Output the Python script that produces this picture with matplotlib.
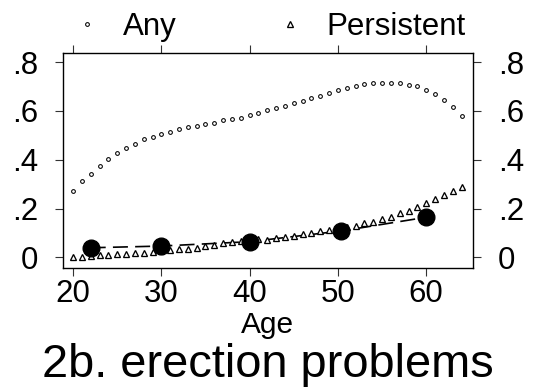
import matplotlib
matplotlib.use("Agg")
import matplotlib.pyplot as plt
from matplotlib.lines import Line2D

plt.rcParams["font.family"] = ["Liberation Sans", "DejaVu Sans"]
plt.rcParams["lines.scale_dashes"] = False

# Prevalence by single year of age
ages = list(range(20, 65))
any_problem = [
    0.271, 0.311, 0.342, 0.375, 0.402, 0.429, 0.447, 0.465, 0.484, 0.492,
    0.506, 0.515, 0.525, 0.534, 0.538, 0.547, 0.551, 0.561, 0.565, 0.573,
    0.583, 0.593, 0.605, 0.612, 0.620, 0.631, 0.641, 0.652, 0.663, 0.672,
    0.685, 0.694, 0.701, 0.709, 0.713, 0.713, 0.713, 0.713, 0.708, 0.701,
    0.686, 0.668, 0.646, 0.617, 0.579,
]
persistent = [
    0.000, 0.003, 0.004, 0.008, 0.010, 0.013, 0.013, 0.018, 0.019, 0.022,
    0.026, 0.030, 0.033, 0.035, 0.039, 0.046, 0.050, 0.057, 0.063, 0.067,
    0.070, 0.075, 0.071, 0.078, 0.085, 0.089, 0.094, 0.098, 0.109, 0.112,
    0.118, 0.124, 0.130, 0.139, 0.146, 0.156, 0.164, 0.180, 0.189, 0.208,
    0.221, 0.238, 0.256, 0.273, 0.290,
]

# Grouped age-band estimates
group_ages = [22, 30, 40, 50.4, 60]
group_values = [0.039, 0.046, 0.064, 0.108, 0.164]

x_ticks = [20, 30, 40, 50, 60]
y_ticks = [0, 0.2, 0.4, 0.6, 0.8]
y_tick_labels = ["0", ".2", ".4", ".6", ".8"]

fig = plt.figure(figsize=(5.56, 3.87), dpi=100)
ax = fig.add_axes([0.1128, 0.3083, 0.738, 0.5556])

ax.plot(group_ages, group_values, color="black", lw=1.2,
        dashes=(10.8, 5.2), zorder=2)
ax.plot(ages, any_problem, linestyle="none", marker="o", ms=2.7,
        mfc="white", mec="black", mew=0.75, zorder=3)
ax.plot(ages, persistent, linestyle="none", marker="^", ms=4.3,
        mfc="white", mec="black", mew=0.95, zorder=3)
ax.plot(group_ages, group_values, linestyle="none", marker="o", ms=12,
        color="black", zorder=4)

ax.set_xlim(18.83, 65.30)
ax.set_ylim(-0.0427, 0.839)
ax.set_xticks(x_ticks)
ax.set_yticks(y_ticks)
ax.set_yticklabels(y_tick_labels)

for s in ax.spines.values():
    s.set_linewidth(1.0)
    s.set_color("black")

ax.tick_params(axis="both", direction="out", length=5.8, width=0.8,
               color="#333333", labelsize=22.5)
ax.tick_params(axis="x", top=True, labeltop=False, pad=2.5)
ax.tick_params(axis="y", right=True, labelright=True, pad=12)

ax.set_xlabel("Age", fontsize=21.5)
ax.xaxis.label.set_va("baseline")
ax.xaxis.set_label_coords(0.5, -0.302)

fig.text(0.481, 0.025, "2b. erection problems", fontsize=33.8,
         ha="center", va="baseline")

handles = [
    Line2D([], [], linestyle="none", marker="o", ms=2.7, mfc="white",
           mec="black", mew=0.75),
    Line2D([], [], linestyle="none", marker="^", ms=4.3, mfc="white",
           mec="black", mew=0.95),
]
fig.legend(handles, ["Any", "Persistent"], ncol=2, frameon=False,
           fontsize=22.5, loc="center left", bbox_to_anchor=(0.128, 0.93),
           handlelength=1.0, handletextpad=0.67, columnspacing=3.1,
           borderpad=0, borderaxespad=0)

fig.savefig("out.png", dpi=100)
